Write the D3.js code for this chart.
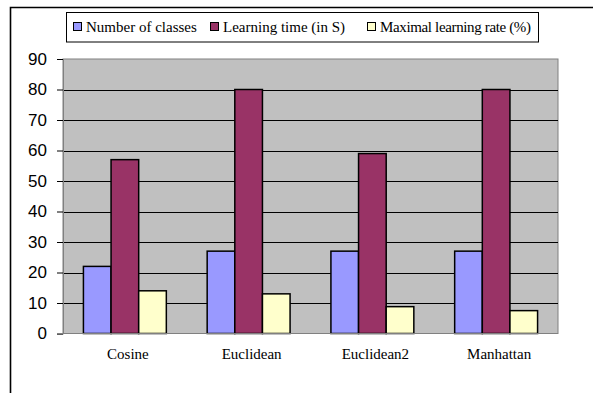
<!DOCTYPE html>
<html>
<head>
<meta charset="utf-8">
<script src="https://cdn.jsdelivr.net/npm/d3@7"></script>
<style>
  html, body { margin: 0; padding: 0; background: #fff; }
  svg { display: block; }
</style>
</head>
<body>
<div id="chart"></div>
<script>
const categories = ["Cosine", "Euclidean", "Euclidean2", "Manhattan"];
const seriesNames = ["Number of classes", "Learning time (in S)", "Maximal learning rate (%)"];
const numberOfClasses = [22, 27, 27, 27];
const learningTime = [57, 80, 59, 80];
const maximalLearningRate = [14, 13, 8.8, 7.5];
const yTicks = [0, 10, 20, 30, 40, 50, 60, 70, 80, 90];
const colors = ["#9999FF", "#993366", "#FFFFCC"];

const seriesValues = [numberOfClasses, learningTime, maximalLearningRate];
const rows = categories.map((c, i) => ({ cat: c, vals: seriesValues.map(s => s[i]) }));

const W = 593, H = 393;
const plot = { left: 63, right: 558, top: 59, bottom: 333.5 };

const svg = d3.select("#chart").append("svg").attr("width", W).attr("height", H);

// outer frame (top and left edges visible)
svg.append("path")
  .attr("d", `M10.5,${H} L10.5,7.5 L${W},7.5`)
  .attr("fill", "none").attr("stroke", "#000").attr("stroke-width", 1.6);

const y = d3.scaleLinear().domain([0, 90]).range([plot.bottom, plot.top]);
const x0 = d3.scaleBand().domain(categories).range([plot.left, plot.right])
  .paddingInner(0.33).paddingOuter(0.165);
const x1 = d3.scaleBand().domain(d3.range(seriesNames.length)).range([0, x0.bandwidth()]);

// plot background
svg.append("rect")
  .attr("x", plot.left).attr("y", plot.top)
  .attr("width", plot.right - plot.left).attr("height", plot.bottom - plot.top)
  .attr("fill", "#C0C0C0").attr("stroke", "#808080").attr("stroke-width", 1);

// gridlines
svg.append("g").selectAll("line")
  .data(yTicks.filter(t => t > 0 && t < 90))
  .join("line")
  .attr("x1", plot.left).attr("x2", plot.right)
  .attr("y1", d => Math.round(y(d)) + 0.5).attr("y2", d => Math.round(y(d)) + 0.5)
  .attr("stroke", "#000").attr("stroke-width", 1);

// y axis
const yAxis = svg.append("g")
  .attr("transform", `translate(${plot.left},0)`)
  .call(d3.axisLeft(y).tickValues(yTicks).tickSize(6).tickPadding(10).tickFormat(d3.format("d")));
yAxis.select(".domain").attr("stroke", "#808080");
yAxis.selectAll(".tick line").attr("stroke", "#000");
yAxis.selectAll("text")
  .attr("font-family", "'Liberation Sans', Arial, sans-serif")
  .attr("font-size", 17).attr("fill", "#000");

// bars
const groups = svg.append("g").selectAll("g")
  .data(rows).join("g")
  .attr("transform", d => `translate(${x0(d.cat)},0)`);
groups.selectAll("rect")
  .data(d => d.vals.map((v, i) => ({ v, i })))
  .join("rect")
  .attr("x", d => x1(d.i))
  .attr("width", x1.bandwidth())
  .attr("y", d => y(d.v))
  .attr("height", d => y(0) - y(d.v))
  .attr("fill", d => colors[d.i])
  .attr("stroke", "#000").attr("stroke-width", 1.5);

// bottom axis line
svg.append("line")
  .attr("x1", plot.left - 6).attr("x2", plot.right)
  .attr("y1", plot.bottom).attr("y2", plot.bottom)
  .attr("stroke", "#808080").attr("stroke-width", 1);

// category labels
const xAxis = svg.append("g")
  .attr("transform", `translate(3,${plot.bottom})`)
  .call(d3.axisBottom(x0).tickSize(0).tickPadding(15));
xAxis.select(".domain").remove();
xAxis.selectAll("text")
  .attr("font-family", "'Liberation Serif', 'Times New Roman', serif")
  .attr("font-size", 15).attr("fill", "#000");

// legend
const legend = svg.append("g");
legend.append("rect")
  .attr("x", 66.5).attr("y", 12.5).attr("width", 472).attr("height", 29.5)
  .attr("fill", "#fff").attr("stroke", "#000").attr("stroke-width", 1);
const legendX = [73, 210, 367];
const items = legend.selectAll("g.item").data(seriesNames).join("g").attr("class", "item")
  .attr("transform", (d, i) => `translate(${legendX[i]},0)`);
items.append("rect")
  .attr("x", 0.5).attr("y", 22.5).attr("width", 8).attr("height", 8)
  .attr("fill", (d, i) => colors[i]).attr("stroke", "#000").attr("stroke-width", 1);
items.append("text")
  .attr("x", 13).attr("y", 32)
  .attr("font-family", "'Liberation Serif', 'Times New Roman', serif")
  .attr("font-size", 15).attr("fill", "#000")
  .text(d => d)
  .each(function(d, i) {
    if (i === 2) d3.select(this).attr("textLength", 151).attr("lengthAdjust", "spacing");
  });
</script>
</body>
</html>
